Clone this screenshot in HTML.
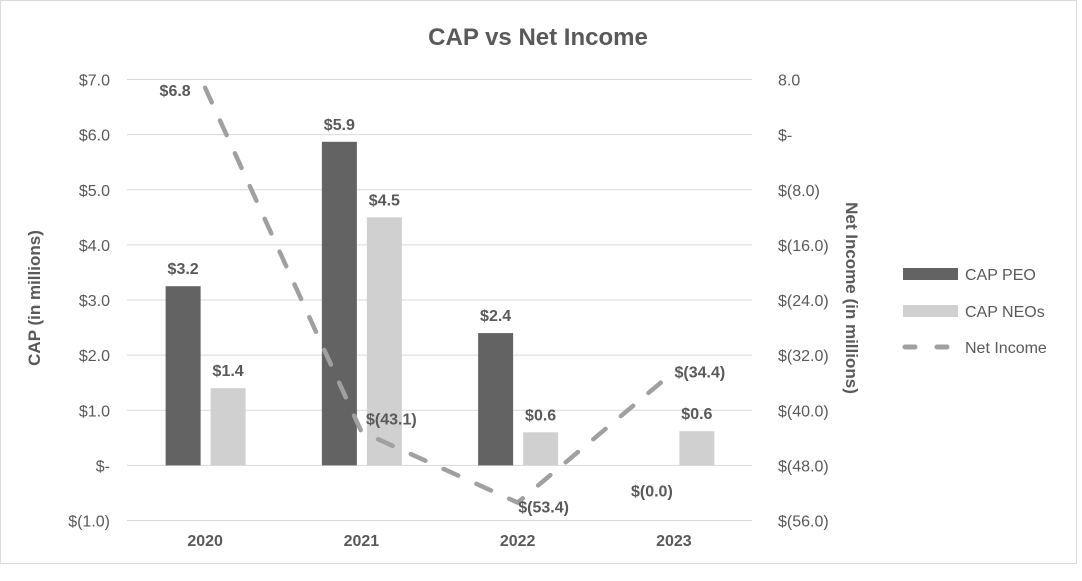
<!DOCTYPE html>
<html><head><meta charset="utf-8"><style>
body{margin:0;background:#fff}
svg text{font-family:"Liberation Sans",Arial,sans-serif}
</style></head><body>
<svg id="c" width="1082" height="576" xmlns="http://www.w3.org/2000/svg">
<rect x="0.5" y="0.5" width="1076" height="563" fill="#fff" stroke="#d9d9d9"/>
<text x="538" y="45" text-anchor="middle" font-size="24" font-weight="bold" fill="#595959">CAP vs Net Income</text>
<text transform="translate(40,298) rotate(-90)" text-anchor="middle" font-size="17" font-weight="bold" fill="#595959">CAP (in millions)</text>
<text transform="translate(846,298) rotate(90)" text-anchor="middle" font-size="17" font-weight="bold" fill="#595959">Net Income (in millions)</text>
<g id="grid"></g><g id="bars"></g><g id="line"></g><g id="labels"></g>
<g>
<rect x="903" y="268" width="55" height="12" fill="#636363"/>
<text x="965" y="280" font-size="16" fill="#595959">CAP PEO</text>
<rect x="903" y="305" width="55" height="12" fill="#d0d0d0"/>
<text x="965" y="317" font-size="16" fill="#595959">CAP NEOs</text>
<line x1="905" y1="347" x2="956" y2="347" stroke="#a0a0a0" stroke-width="5" stroke-linecap="round" stroke-dasharray="10 22"/>
<text x="965" y="353" font-size="16" fill="#595959">Net Income</text>
</g>
</svg>
<script>
const categories=["2020","2021","2022","2023"];
const peo=[3.25,5.87,2.4,0];
const neo=[1.4,4.5,0.6,0.62];
const net=[6.8,-43.1,-53.4,-34.4];
const peoLabels=["$3.2","$5.9","$2.4","$(0.0)"];
const neoLabels=["$1.4","$4.5","$0.6","$0.6"];
const netLabels=["$6.8","$(43.1)","$(53.4)","$(34.4)"];
const leftTicks=[7,6,5,4,3,2,1,0,-1];
const leftTickLabels=["$7.0","$6.0","$5.0","$4.0","$3.0","$2.0","$1.0","$-","$(1.0)"];
const rightTicks=[8,0,-8,-16,-24,-32,-40,-48,-56];
const rightTickLabels=["8.0","$-","$(8.0)","$(16.0)","$(24.0)","$(32.0)","$(40.0)","$(48.0)","$(56.0)"];
const NS="http://www.w3.org/2000/svg";
const plotTop=79.5,plotBot=520.5,plotL=127,plotR=752;
const yL=v=>plotTop+(7-v)*(plotBot-plotTop)/8;
const yR=v=>plotTop+(8-v)*(plotBot-plotTop)/64;
const xC=i=>plotL+(plotR-plotL)/4*(i+0.5);
function mk(tag,attrs,parent,txt){const e=document.createElementNS(NS,tag);for(const k in attrs)e.setAttribute(k,attrs[k]);if(txt!==undefined)e.textContent=txt;document.getElementById(parent).appendChild(e);return e;}
leftTicks.forEach((v,i)=>{
 const g=mk('line',{x1:plotL,x2:plotR,y1:yL(v),y2:yL(v),stroke:'#d9d9d9','stroke-width':1},'grid');
 
 
 const t=mk('text',{x:110,y:yL(v)+6,'text-anchor':'end','font-size':16,fill:'#595959'},'grid',leftTickLabels[i]);
 
 
});
rightTicks.forEach((v,i)=>{
 const t=mk('text',{x:778,y:yR(v)+6,'font-size':16,fill:'#595959'},'grid',rightTickLabels[i]);
 
 
});
categories.forEach((c,i)=>{
 const t=mk('text',{x:xC(i),y:546,'text-anchor':'middle','font-size':16,'font-weight':'bold',fill:'#595959'},'labels',c);
 
 
 const bw=35;
 const px=xC(i)-22-bw/2, nx=xC(i)+23-bw/2;
 const b1=mk('rect',{x:px,y:Math.min(yL(peo[i]),yL(0)),width:bw,height:Math.abs(yL(0)-yL(peo[i])),fill:'#636363'},'bars');
 
 
 const b2=mk('rect',{x:nx,y:Math.min(yL(neo[i]),yL(0)),width:bw,height:Math.abs(yL(0)-yL(neo[i])),fill:'#d0d0d0'},'bars');
 
 
 const ly=peo[i]>0?yL(peo[i])-12:yL(0)+31;
 const l1=mk('text',{x:xC(i)-22,y:ly,'text-anchor':'middle','font-size':16,'font-weight':'bold',fill:'#595959'},'labels',peoLabels[i]);
 
 
 const l2=mk('text',{x:xC(i)+23,y:yL(neo[i])-12,'text-anchor':'middle','font-size':16,'font-weight':'bold',fill:'#595959'},'labels',neoLabels[i]);
 
 
});
const pts=net.map((v,i)=>xC(i)+','+yR(v)).join(' ');
const pl=mk('polyline',{points:pts,fill:'none',stroke:'#a0a0a0','stroke-width':4.5,'stroke-linecap':'round','stroke-dasharray':'16 20'},'line');


const off=[[-30,8],[30,-7],[26,10],[26,6]];
net.forEach((v,i)=>{
 const t=mk('text',{x:xC(i)+off[i][0],y:yR(v)+off[i][1],'text-anchor':'middle','font-size':16,'font-weight':'bold',fill:'#595959'},'labels',netLabels[i]);
 
 
});
</script>
</body></html>
